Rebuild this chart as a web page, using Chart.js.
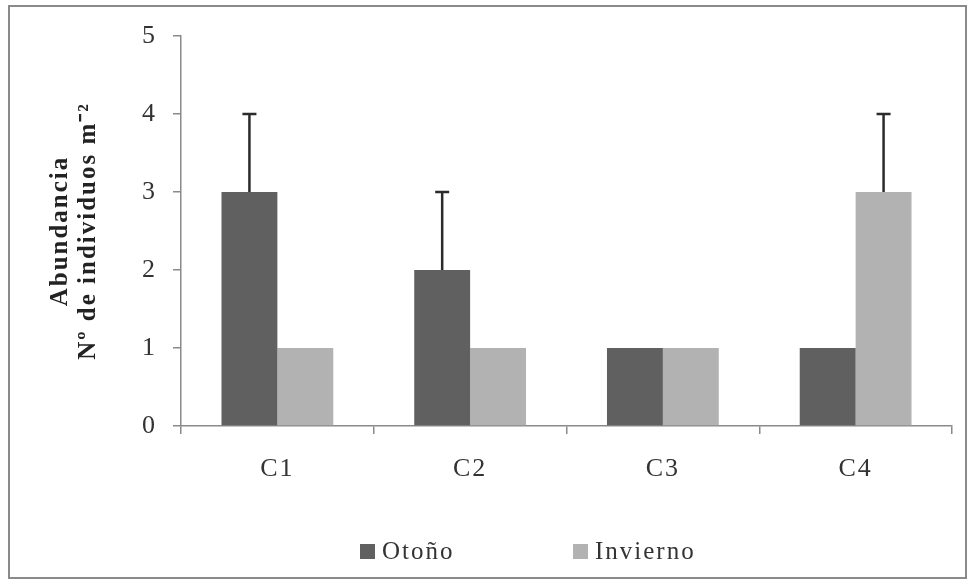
<!DOCTYPE html>
<html>
<head>
<meta charset="utf-8">
<script src="https://cdn.jsdelivr.net/npm/chart.js@4.4.0/dist/chart.umd.min.js"></script>
<style>
  html, body { margin: 0; padding: 0; background: #fff; }
  #wrap { width: 970px; height: 587px; }
</style>
</head>
<body>
<div id="wrap"><canvas id="myChart" width="970" height="587"></canvas></div>
<script>
const categories = ['C1', 'C2', 'C3', 'C4'];
const otono = [3, 2, 1, 1];
const invierno = [1, 1, 1, 3];
const otonoErr = [1, 1, 0, 0];
const inviernoErr = [0, 0, 0, 1];
const yTicks = [0, 1, 2, 3, 4, 5];

const serif = "'Liberation Serif', 'Times New Roman', serif";

// the source text is set rather wide, so spread the letters a little
const spacing = {
  id: 'spacing',
  beforeUpdate(chart) { chart.ctx.letterSpacing = '2px'; },
  beforeDraw(chart) { chart.ctx.letterSpacing = '2px'; }
};

// up-only error bars, drawn from the bar elements and the y scale
const errorBars = {
  id: 'errorBars',
  afterDatasetsDraw(chart) {
    const ctx = chart.ctx;
    const y = chart.scales.y;
    const errs = [otonoErr, inviernoErr];
    chart.data.datasets.forEach((ds, i) => {
      const meta = chart.getDatasetMeta(i);
      meta.data.forEach((bar, j) => {
        const e = errs[i][j];
        if (!e) return;
        const y0 = y.getPixelForValue(ds.data[j]);
        const y1 = y.getPixelForValue(ds.data[j] + e);
        ctx.save();
        ctx.strokeStyle = '#2b2b2b';
        ctx.lineWidth = 2.5;
        ctx.beginPath();
        ctx.moveTo(bar.x, y0);
        ctx.lineTo(bar.x, y1);
        ctx.moveTo(bar.x - 7, y1);
        ctx.lineTo(bar.x + 7, y1);
        ctx.stroke();
        ctx.restore();
      });
    });
  }
};

// legend below the axis; the source spaces its two entries widely,
// which the built-in legend can't do in this little room
const legendRow = {
  id: 'legendRow',
  afterDraw(chart) {
    const ctx = chart.ctx;
    const xs = [360, 573];
    const yc = 552;
    ctx.save();
    ctx.font = '25px ' + serif;
    ctx.textBaseline = 'middle';
    ctx.textAlign = 'left';
    chart.data.datasets.forEach((ds, i) => {
      ctx.fillStyle = ds.backgroundColor;
      ctx.fillRect(xs[i], yc - 8, 15, 15);
      ctx.fillStyle = '#333';
      ctx.fillText(ds.label, xs[i] + 22, yc);
    });
    ctx.restore();
  }
};

// white background and grey frame round the whole chart
const frame = {
  id: 'frame',
  beforeDraw(chart) {
    const ctx = chart.ctx;
    ctx.save();
    ctx.fillStyle = '#fff';
    ctx.fillRect(0, 0, chart.width, chart.height);
    ctx.strokeStyle = '#8a8a8a';
    ctx.lineWidth = 2;
    ctx.strokeRect(9, 6, 957, 572);
    ctx.restore();
  }
};

const ctx = document.getElementById('myChart').getContext('2d');
const myChart = new Chart(ctx, {
  type: 'bar',
  data: {
    labels: categories,
    datasets: [
      {
        label: 'Otoño',
        data: otono,
        backgroundColor: '#606060',
        borderWidth: 0
      },
      {
        label: 'Invierno',
        data: invierno,
        backgroundColor: '#b2b2b2',
        borderWidth: 0
      }
    ]
  },
  options: {
    responsive: false,
    animation: false,
    categoryPercentage: 0.58,
    barPercentage: 1.0,
    layout: { padding: { left: 10, right: 18, top: 36, bottom: 12 } },
    plugins: {
      tooltip: { enabled: false },
      legend: { display: false }
    },
    scales: {
      x: {
        offset: true,
        grid: {
          display: true,
          offset: true,
          drawOnChartArea: false,
          drawTicks: true,
          tickLength: 8,
          color: '#8a8a8a',
          lineWidth: 1.5
        },
        border: { display: true, color: '#8a8a8a', width: 1.5 },
        ticks: {
          padding: 20,
          color: '#333',
          font: { family: serif, size: 26 }
        },
        afterFit(scale) { scale.height = 149; }
      },
      y: {
        min: 0,
        max: 5,
        afterBuildTicks(scale) { scale.ticks = yTicks.map(v => ({ value: v })); },
        grid: {
          display: true,
          drawOnChartArea: false,
          drawTicks: true,
          tickLength: 8,
          color: '#8a8a8a',
          lineWidth: 1.5
        },
        border: { display: true, color: '#8a8a8a', width: 1.5 },
        ticks: {
          padding: 16,
          color: '#333',
          font: { family: serif, size: 26 }
        },
        title: {
          display: true,
          text: ['Abundancia', 'Nº de individuos m⁻²'],
          color: '#222',
          font: { family: serif, size: 25, weight: 'bold', lineHeight: 1.12 },
          padding: { top: 37, bottom: 0 }
        },
        afterFit(scale) { scale.width = 171; }
      }
    }
  },
  plugins: [spacing, frame, errorBars, legendRow]
});
</script>
</body>
</html>
